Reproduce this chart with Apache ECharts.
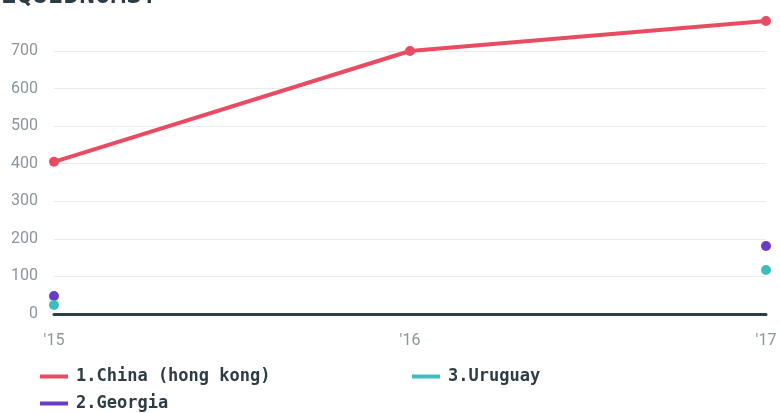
<!DOCTYPE html>
<html><head><meta charset="utf-8">
<script src="https://cdn.jsdelivr.net/npm/echarts@6/dist/echarts.min.js"></script>
<style>html,body{margin:0;padding:0;background:#fff}#c{width:780px;height:413px}</style>
</head><body><div id="c"></div>
<script>
var categories = ["'15", "'16", "'17"];
var china = [405, 700, 780];
var georgia = [48, null, 181];
var uruguay = [24, null, 117];
var seriesNames = ["1.China (hong kong)", "2.Georgia", "3.Uruguay"];
var colors = ["#e94b62", "#6a3cc6", "#3dbdbb"];

var chart = echarts.init(document.getElementById('c'));
function mk(name, data, color) {
  return {
    name: name, type: 'line', data: data,
    symbol: 'circle', symbolSize: 10,
    lineStyle: {width: 4, color: color},
    itemStyle: {color: color},
    emphasis: {disabled: true}
  };
}
var legendText = {fontFamily: 'DejaVu Sans Mono', fontWeight: 'bold', fontSize: 17, color: '#2e3c44', padding: [0, 0, 0, 3]};
function lg(name, left, top) {
  return {data: [name], orient: 'vertical', left: left, top: top, padding: 0,
    icon: 'rect', itemWidth: 28, itemHeight: 4, textStyle: legendText};
}
chart.setOption({
  animation: false,
  color: colors,
  title: {
    text: 'EQUIDNOMS?', left: -4, top: -22,
    textStyle: {fontFamily: 'DejaVu Sans Mono', fontWeight: 'bold', fontSize: 26, color: '#2e3c44'}
  },
  grid: {left: 54, right: 14, top: 13.4, bottom: 99},
  legend: [
    lg(seriesNames[0], 40, 368),
    lg(seriesNames[1], 40, 395),
    lg(seriesNames[2], 412, 368)
  ],
  xAxis: {
    type: 'category', data: categories, boundaryGap: false,
    axisLine: {lineStyle: {color: '#2f3d45', width: 3}},
    axisTick: {show: false},
    axisLabel: {margin: 19, fontFamily: 'Roboto', fontSize: 16, color: '#8a959c'}
  },
  yAxis: {
    type: 'value', min: 0, max: 800, interval: 100,
    axisLine: {show: false}, axisTick: {show: false},
    axisLabel: {margin: 16, fontFamily: 'Roboto', fontSize: 16, color: '#8a959c', showMaxLabel: false},
    splitLine: {showMaxLine: false, lineStyle: {color: '#ebebeb', width: 1}}
  },
  series: [
    mk(seriesNames[0], china, colors[0]),
    mk(seriesNames[1], georgia, colors[1]),
    mk(seriesNames[2], uruguay, colors[2])
  ]
});
</script></body></html>
